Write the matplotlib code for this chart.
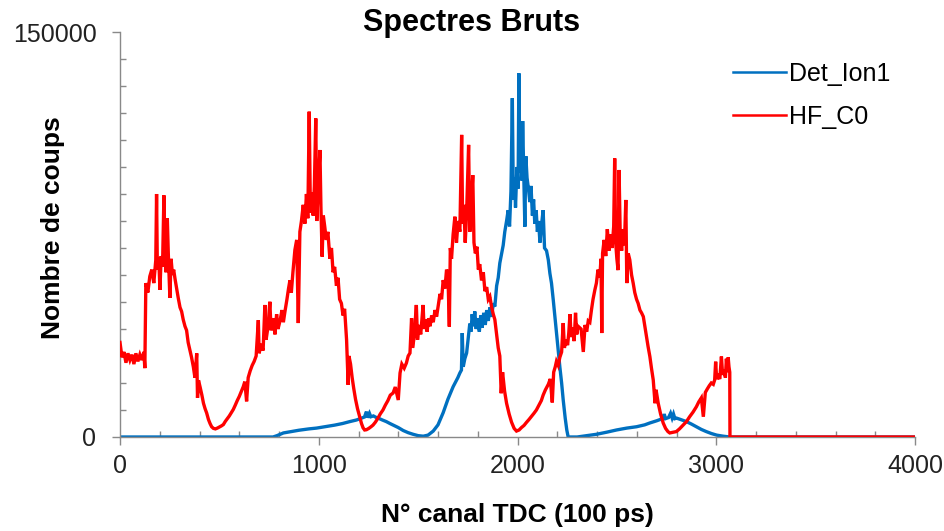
import numpy as np
import matplotlib
matplotlib.use("Agg")
import matplotlib.pyplot as plt
from matplotlib.ticker import MultipleLocator, FixedLocator

# ---- data: TDC channel vs counts --------------------------------------
ion_ch = [
    0, 770, 790, 822, 860, 900, 950, 989, 1030, 1080,
    1120, 1156, 1190, 1215, 1230, 1240, 1245, 1255, 1262, 1275,
    1290, 1305, 1320, 1340, 1358, 1380, 1400, 1425, 1450, 1475,
    1500, 1526, 1550, 1576, 1600, 1626, 1650, 1676, 1700, 1710,
    1718, 1722, 1727, 1735, 1744, 1753, 1760, 1766, 1772, 1778,
    1785, 1792, 1800, 1808, 1815, 1822, 1830, 1838, 1845, 1853,
    1861, 1870, 1878, 1886, 1895, 1903, 1911, 1920, 1928, 1936,
    1945, 1953, 1960, 1967, 1974, 1979, 1985, 1990, 1997, 2003,
    2007, 2012, 2017, 2022, 2026, 2031, 2037, 2042, 2048, 2055,
    2062, 2068, 2075, 2081, 2087, 2094, 2100, 2106, 2113, 2120,
    2129, 2136, 2146, 2155, 2163, 2171, 2180, 2188, 2196, 2205,
    2213, 2222, 2230, 2240, 2248, 2255, 2300, 2340, 2397, 2450,
    2498, 2550, 2599, 2640, 2666, 2700, 2733, 2738, 2745, 2760,
    2770, 2778, 2785, 2792, 2800, 2820, 2850, 2875, 2900, 2925,
    2950, 2975, 3002, 3035, 3068, 4000,
]
ion_counts = [
    0, 0, 500, 1500, 2000, 2500, 3000, 3300, 3800, 4400,
    5000, 5700, 6300, 7000, 7400, 9400, 7200, 8800, 7500, 7800,
    7200, 6800, 6300, 5700, 5000, 4200, 3500, 2400, 1600, 1000,
    500, 300, 700, 2200, 4500, 9000, 14000, 18600, 22000, 23700,
    24800, 38500, 26000, 29000, 31100, 37200, 42000, 39000, 45500, 41000,
    46500, 40000, 44000, 39000, 45000, 40500, 46000, 41500, 47000, 43000,
    48000, 44500, 49500, 48300, 56000, 59000, 64400, 68000, 71000, 76000,
    80000, 84000, 78000, 91000, 125500, 88000, 96000, 85000, 100000, 92000,
    134700, 98000, 108000, 95000, 117000, 100000, 77900, 104000, 96000, 92000,
    87000, 93000, 82000, 88000, 79000, 84000, 76000, 80000, 72000, 78000,
    84000, 70000, 69000, 65600, 60600, 57000, 50700, 44600, 38500, 32000,
    26000, 20000, 13700, 7000, 2600, 0, 0, 400, 1000, 1800,
    2600, 3300, 3800, 4500, 5200, 6000, 6900, 8500, 6800, 7200,
    8800, 7000, 8500, 6800, 7000, 6500, 5700, 4800, 3800, 2800,
    2000, 1300, 700, 300, 0, 0,
]

hf_ch = [
    0, 10, 20, 30, 40, 50, 60, 70, 80, 90,
    100, 110, 120, 125, 130, 140, 150, 160, 170, 180,
    184, 188, 195, 201, 207, 214, 221, 226, 232, 238,
    243, 251, 257, 264, 270, 277, 285, 293, 302, 310,
    318, 327, 335, 343, 352, 360, 369, 377, 386, 390,
    395, 403, 412, 420, 428, 436, 445, 453, 461, 470,
    480, 490, 500, 510, 520, 530, 540, 550, 560, 570,
    580, 590, 600, 610, 620, 628, 637, 645, 655, 665,
    675, 685, 696, 700, 710, 720, 729, 735, 745, 754,
    760, 770, 780, 788, 795, 805, 815, 822, 830, 840,
    848, 855, 862, 870, 880, 889, 897, 905, 913, 922,
    930, 938, 945, 952, 958, 965, 972, 978, 985, 990,
    997, 1006, 1011, 1017, 1023, 1030, 1038, 1046, 1056, 1064,
    1072, 1080, 1089, 1097, 1105, 1114, 1122, 1130, 1140, 1148,
    1152, 1160, 1168, 1176, 1185, 1195, 1206, 1215, 1223, 1231,
    1240, 1252, 1263, 1273, 1285, 1298, 1310, 1323, 1335, 1348,
    1360, 1374, 1385, 1400, 1409, 1418, 1430, 1441, 1450, 1459,
    1467, 1472, 1480, 1491, 1497, 1505, 1513, 1525, 1530, 1538,
    1545, 1553, 1560, 1568, 1576, 1585, 1593, 1601, 1610, 1618,
    1626, 1635, 1643, 1650, 1657, 1662, 1668, 1676, 1685, 1693,
    1701, 1710, 1719, 1724, 1730, 1737, 1744, 1754, 1760, 1766,
    1775, 1781, 1788, 1796, 1803, 1810, 1819, 1828, 1836, 1845,
    1853, 1861, 1870, 1878, 1886, 1895, 1903, 1911, 1918, 1925,
    1935, 1945, 1958, 1970, 1983, 1995, 2008, 2020, 2033, 2045,
    2058, 2070, 2083, 2095, 2108, 2120, 2129, 2140, 2155, 2165,
    2175, 2182, 2190, 2196, 2205, 2213, 2222, 2230, 2236, 2244,
    2252, 2258, 2264, 2270, 2278, 2285, 2292, 2298, 2305, 2320,
    2331, 2340, 2348, 2356, 2364, 2372, 2380, 2389, 2397, 2405,
    2414, 2420, 2424, 2428, 2436, 2444, 2452, 2460, 2468, 2476,
    2484, 2489, 2494, 2500, 2506, 2511, 2517, 2524, 2531, 2538,
    2545, 2550, 2557, 2565, 2574, 2582, 2590, 2599, 2607, 2616,
    2624, 2633, 2641, 2649, 2657, 2666, 2674, 2683, 2692, 2697,
    2708, 2720, 2733, 2745, 2757, 2766, 2780, 2799, 2815, 2832,
    2850, 2866, 2883, 2900, 2912, 2925, 2935, 2945, 2955, 2965,
    2975, 2985, 2992, 2997, 3002, 3010, 3018, 3026, 3032, 3040,
    3046, 3051, 3056, 3060, 3064, 3068, 3069, 4000,
]
hf_counts = [
    35000, 29500, 31500, 27500, 31000, 28500, 30500, 27000, 31000, 28000,
    30500, 28500, 31500, 25500, 57000, 53500, 59500, 62000, 57000, 65500,
    90000, 62000, 66500, 54500, 67000, 63000, 89500, 66000, 61000, 81000,
    68000, 51500, 66000, 60000, 62000, 58500, 55000, 51500, 48000, 46500,
    43500, 41000, 39500, 35000, 32000, 29500, 26000, 22000, 31000, 14500,
    21000, 18500, 15500, 12500, 10500, 8900, 6500, 5000, 3800, 3200,
    3000, 3300, 3700, 4100, 4600, 5800, 6800, 7800, 9000, 10200,
    11800, 13500, 15000, 16800, 18600, 20500, 13200, 22000, 24500, 26500,
    28000, 30000, 43300, 31000, 34500, 32000, 48900, 36000, 41000, 50100,
    39500, 44000, 38000, 45500, 40000, 43000, 47000, 42500, 46500, 51000,
    55000, 58000, 53500, 61000, 69300, 73000, 42200, 76000, 80000, 86000,
    79000, 90000, 81000, 120500, 83000, 90500, 82000, 93000, 118000, 80000,
    92000, 106300, 85000, 66800, 82000, 78000, 73000, 76000, 66000, 70000,
    61000, 63000, 56000, 59000, 51000, 49500, 45000, 47500, 36000, 19300,
    30000, 27000, 22000, 18000, 14000, 10500, 7500, 5000, 3400, 2600,
    2700, 3200, 3800, 4400, 5500, 7000, 8600, 10000, 11800, 13500,
    15500, 16300, 18500, 13700, 23700, 27000, 25500, 27400, 30000, 31100,
    44000, 33000, 37000, 48900, 36000, 41500, 38000, 48900, 40000, 43500,
    39000, 44000, 41000, 45000, 42500, 47000, 44600, 48500, 53000, 51000,
    58100, 55000, 62000, 60000, 40900, 70000, 66000, 75000, 81600, 72000,
    80000, 76000, 111900, 79000, 86000, 72000, 83000, 108200, 76000, 84000,
    97000, 72000, 68000, 70500, 62000, 64000, 58000, 61000, 54000, 55500,
    51000, 52000, 48000, 45500, 43500, 38000, 33000, 30000, 16200, 24000,
    17000, 12500, 8500, 5500, 3200, 2200, 2600, 3500, 4300, 5400,
    6500, 7600, 8800, 10000, 11800, 13500, 15500, 17400, 19500, 21500,
    12800, 24000, 26000, 28000, 26500, 29500, 31500, 42200, 33000, 36000,
    34000, 38500, 45500, 37000, 40500, 35500, 46000, 38000, 41000, 40000,
    31500, 41500, 39000, 43000, 42500, 47000, 51000, 54400, 57000, 62000,
    59000, 66000, 38500, 68000, 73000, 67000, 77000, 69000, 75000, 70000,
    78000, 103200, 72000, 66000, 61800, 98900, 74000, 69000, 77000, 71000,
    87800, 57000, 68000, 65600, 60000, 57000, 53500, 51000, 49500, 47000,
    46000, 44600, 41000, 37200, 33500, 29800, 25500, 21100, 12500, 17500,
    12500, 8500, 5200, 3200, 2000, 1500, 1700, 2000, 3000, 4300,
    5700, 7500, 9200, 11200, 13000, 14500, 7500, 16500, 17800, 19000,
    20000, 19500, 21100, 27900, 21500, 22500, 21500, 29800, 23000, 25000,
    22000, 29000, 24000, 29500, 26000, 24000, 0, 0,
]

series_names = ["Det_Ion1", "HF_C0"]
x_ticks = [0, 1000, 2000, 3000, 4000]
y_ticks = [0, 150000]
title = "Spectres Bruts"
x_label = "N° canal TDC (100 ps)"
y_label = "Nombre de coups"

# ---- figure -------------------------------------------------------------
plt.rcParams["font.family"] = ["Liberation Sans", "DejaVu Sans"]
W, H = 944, 531
fig = plt.figure(figsize=(W / 100, H / 100), dpi=100)
ax = fig.add_axes([120 / W, (H - 437) / H, 795 / W, 405 / H])

ax.plot(ion_ch, ion_counts, color="#0070C0", lw=2.4, label=series_names[0],
        zorder=2, solid_joinstyle="miter")
ax.plot(hf_ch, hf_counts, color="#FF0000", lw=2.4, label=series_names[1],
        zorder=3, solid_joinstyle="miter")

ax.set_xlim(0, 4000)
ax.set_ylim(0, 150000)
ax.xaxis.set_major_locator(FixedLocator(x_ticks))
ax.yaxis.set_major_locator(FixedLocator(y_ticks))
ax.xaxis.set_minor_locator(MultipleLocator(200))
ax.yaxis.set_minor_locator(MultipleLocator(10000))
ax.set_yticklabels([str(v) for v in y_ticks])
ax.set_xticklabels([str(v) for v in x_ticks])

axis_grey = "#898989"
for side in ("top", "right"):
    ax.spines[side].set_visible(False)
for side in ("left", "bottom"):
    ax.spines[side].set_color(axis_grey)
    ax.spines[side].set_linewidth(1.0)

ax.tick_params(which="major", direction="out", length=6, width=1.0,
               color=axis_grey, labelsize=18, labelcolor="#222222")
ax.tick_params(which="minor", direction="in", length=4.5, width=1.0,
               color=axis_grey)
ax.tick_params(axis="x", which="major", pad=6)
ax.tick_params(axis="y", which="major", pad=11)

fig.text(0.5, 1 - 23 / H, title, ha="center", va="center",
         fontsize=22, fontweight="bold")
fig.text(517 / W, 1 - 515 / H, x_label, ha="center", va="center",
         fontsize=19, fontweight="bold")
fig.text(53 / W, 1 - 228 / H, y_label, ha="center", va="center",
         fontsize=19, fontweight="bold", rotation=90)

leg = ax.legend(loc="upper left", bbox_to_anchor=(733 / W, 1 - 62 / H),
                bbox_transform=fig.transFigure, frameon=False, fontsize=18,
                handlelength=2.1, handletextpad=0.15, labelspacing=0.75,
                borderpad=0, borderaxespad=0)
for line in leg.get_lines():
    line.set_linewidth(1.8)

fig.savefig("out.png", dpi=100)
